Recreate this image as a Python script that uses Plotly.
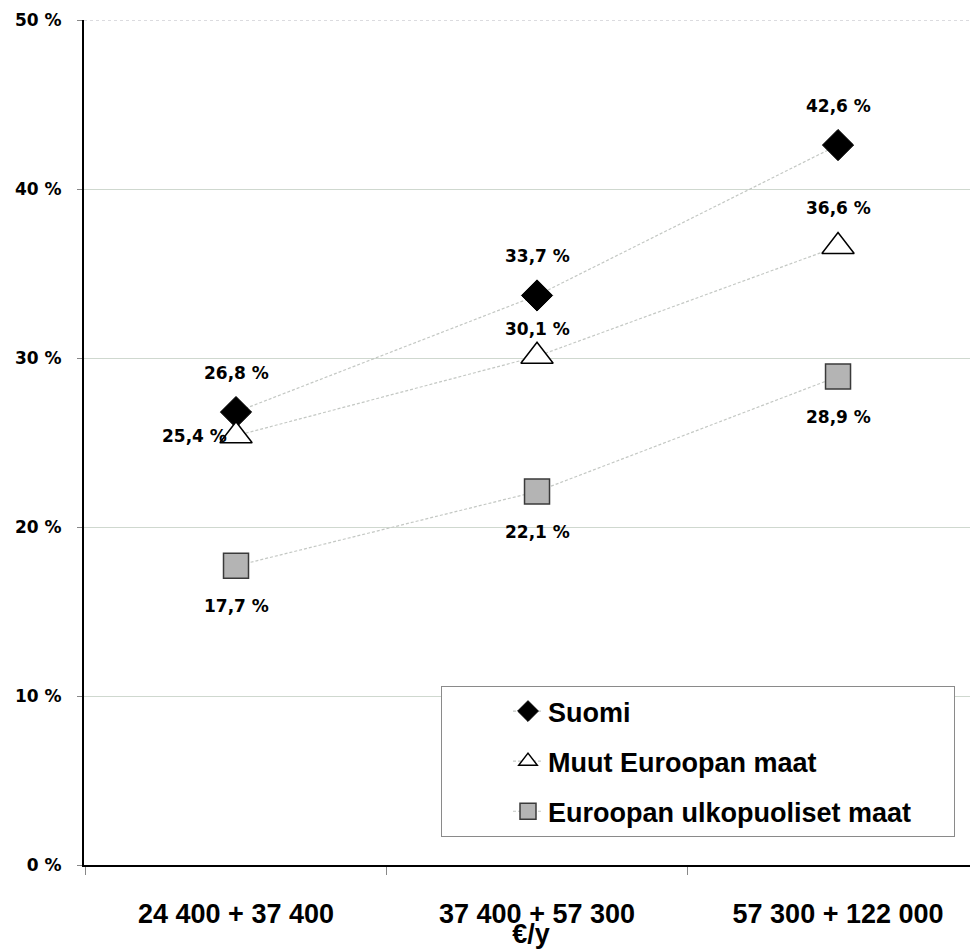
import plotly.graph_objects as go

categories = ["24 400 + 37 400", "37 400 + 57 300", "57 300 + 122 000"]
suomi = [26.8, 33.7, 42.6]
muut_euroopan = [25.4, 30.1, 36.6]
euroopan_ulkopuoliset = [17.7, 22.1, 28.9]
series_names = ["Suomi", "Muut Euroopan maat", "Euroopan ulkopuoliset maat"]
y_tick_vals = [0, 10, 20, 30, 40, 50]
y_tick_text = ["0 %", "10 %", "20 %", "30 %", "40 %", "50 %"]
x_title = "€/y"

def fmt(v):
    return f"{v:.1f}".replace(".", ",") + " %"

# trailing non-breaking spaces widen the legend box to the reference's right padding
legend_pad = "\u00a0" * 5

line_style = dict(color="#c4c8c4", width=1.2, dash="3px,2px")
big_font = dict(family="Liberation Sans", size=27, color="black", weight="bold")
small_font = dict(family="DejaVu Sans", size=17, color="black", weight="bold")

fig = go.Figure()
fig.add_trace(go.Scatter(
    x=categories, y=suomi, name=series_names[0], mode="lines+markers",
    legendgroup="a",
    line=line_style,
    marker=dict(symbol="diamond", size=24, color="black", line=dict(color="black", width=1)),
))
fig.add_trace(go.Scatter(
    x=categories, y=muut_euroopan, name=series_names[1], mode="lines+markers",
    legendgroup="b",
    line=line_style,
    marker=dict(symbol="triangle-up", size=28, color="white", line=dict(color="black", width=1.5)),
))
fig.add_trace(go.Scatter(
    x=categories, y=euroopan_ulkopuoliset, name=series_names[2] + legend_pad, mode="lines+markers",
    legendgroup="c",
    line=line_style,
    marker=dict(symbol="square", size=25, color="#b4b4b4", line=dict(color="#3a3a3a", width=1.5)),
))

annotations = []
for c, v in zip(categories, suomi):
    annotations.append(dict(x=c, y=v, text=fmt(v), showarrow=False, yshift=39, font=small_font))
muut_shifts = [(-42, 0), (0, 27), (0, 38)]
for c, v, (xs, ys) in zip(categories, muut_euroopan, muut_shifts):
    annotations.append(dict(x=c, y=v, text=fmt(v), showarrow=False, xshift=xs, yshift=ys, font=small_font))
for c, v in zip(categories, euroopan_ulkopuoliset):
    annotations.append(dict(x=c, y=v, text=fmt(v), showarrow=False, yshift=-40, font=small_font))

# the page body has an 8px margin, so the figure is 970x941 with plot area at 76..970, 12..857
fig.update_layout(
    width=970, height=941,
    margin=dict(l=76, r=0, t=12, b=84, autoexpand=False),
    paper_bgcolor="white", plot_bgcolor="white",
    showlegend=True,
    legend=dict(
        x=(441 - 84) / 894, y=(865 - 686) / 845, xanchor="left", yanchor="top",
        bgcolor="white", bordercolor="#8a8a8a", borderwidth=1,
        font=big_font, tracegroupgap=12, indentation=66,
        traceorder="grouped",
    ),
    annotations=annotations,
    shapes=[dict(type="line", xref="paper", x0=0, x1=1, yref="y",
                 y0=y_tick_vals[-1], y1=y_tick_vals[-1],
                 line=dict(color="#b8b8c0", width=1, dash="dot"), layer="below")],
    xaxis=dict(
        type="category", range=[-0.505, 2.465], automargin=False,
        tickson="boundaries", ticks="outside", ticklen=8, tickcolor="#888888",
        showline=True, linecolor="black", linewidth=2,
        showgrid=False, tickfont=big_font, ticklabelstandoff=24,
        title=dict(text=x_title, font=big_font, standoff=0),
    ),
    yaxis=dict(
        range=[0, 50], tickvals=y_tick_vals, ticktext=y_tick_text, automargin=False,
        ticks="outside", ticklen=5, tickcolor="#888888",
        showline=True, linecolor="black", linewidth=2,
        showgrid=True, gridcolor="#cfd8cf", gridwidth=1,
        zeroline=False, tickfont=small_font, ticklabelstandoff=12,
    ),
)

fig.write_html("out.html")
